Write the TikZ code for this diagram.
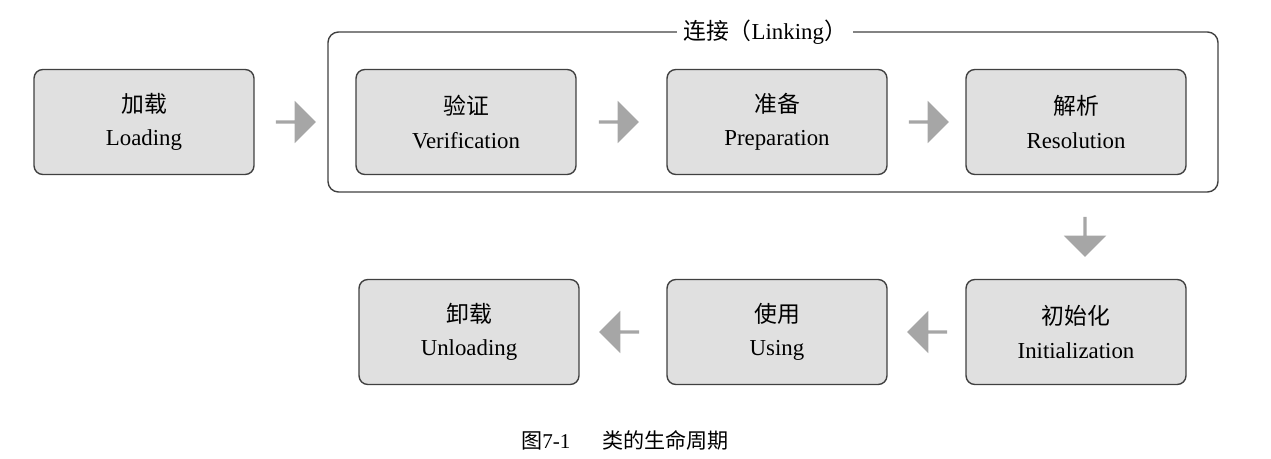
\documentclass[tikz,border=0pt]{standalone}
\usepackage{fontspec}
\setmainfont{Liberation Serif}
\newfontfamily\cjk{Noto Sans CJK SC}
\usetikzlibrary{shapes.arrows}
\begin{document}
\begin{tikzpicture}[x=0.02cm,y=-0.02cm,
  box/.style={draw=black!75,line width=0.8pt,fill=black!12,rounded corners=5pt,minimum width=4.4cm,minimum height=2.1cm,align=center,font=\fontsize{13}{19}\selectfont},
  barrow/.style={single arrow,fill=black!35,draw=none,minimum height=0.8cm,minimum width=0.85cm,single arrow head extend=0.08cm,inner sep=0pt}]
\useasboundingbox (0,0) rectangle (1271,459);
\draw[black!75,line width=0.8pt,rounded corners=6pt] (328,32) rectangle (1218,192);
\node[fill=white,font=\fontsize{13}{16}\selectfont] (lt) at (765,32) {{\cjk 连接（}Linking{\cjk ）}};
\node[box] (load) at (144,122) {{\cjk 加载}\\Loading};
\node[box] (ver) at (466,122) {{\cjk 验证}\\Verification};
\node[box] (prep) at (777,122) {{\cjk 准备}\\Preparation};
\node[box] (res) at (1076,122) {{\cjk 解析}\\Resolution};
\node[box] (unl) at (469,332) {{\cjk 卸载}\\Unloading};
\node[box] (use) at (777,332) {{\cjk 使用}\\Using};
\node[box] (ini) at (1076,332) {{\cjk 初始化}\\Initialization};
\node[barrow] (a1) at (295,122) {};
\node[barrow] (a2) at (618,122) {};
\node[barrow] (a3) at (928,122) {};
\node[barrow,rotate=-90] (a4) at (1085,236) {};
\node[barrow,rotate=180] (a5) at (928,332) {};
\node[barrow,rotate=180] (a6) at (620,332) {};
\node[font=\fontsize{12}{14}\selectfont] (cap) at (625,440) {{\cjk 图}7-1\hspace{1.5em}{\cjk 类的生命周期}};
\end{tikzpicture}
\end{document}
